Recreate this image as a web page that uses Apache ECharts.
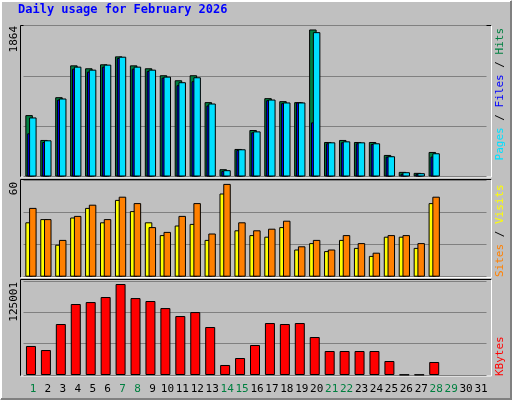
<!DOCTYPE html>
<html><head><meta charset="utf-8">
<script src="https://cdn.jsdelivr.net/npm/echarts@6/dist/echarts.min.js"></script>
<style>html,body{margin:0;padding:0;background:#c0c0c0}#c{width:512px;height:400px}</style>
</head><body><div id="c"></div>
<script>
var days = ['1','2','3','4','5','6','7','8','9','10','11','12','13','14','15','16','17','18','19','20','21','22','23','24','25','26','27','28','29','30','31'];
var weekend = ['1','7','8','14','15','21','22','28','29'];
var hits  = [758,451,979,1372,1336,1385,1483,1372,1336,1250,1188,1250,918,90,340,574,967,930,918,1815,426,451,426,426,266,57,45,303];
var files = [729,447,963,1356,1319,1381,1479,1356,1319,1233,1164,1225,901,78,336,557,950,914,914,1782,422,434,422,410,250,53,41,287];
var pages = [533,426,950,1331,1295,1356,1463,1331,1303,1221,1127,1176,877,70,328,545,942,905,914,668,410,422,410,401,246,33,33,246];
var visits = [34,36,20,37,43,34,48,41,34,26,32,33,23,52,29,26,25,31,17,21,16,23,18,13,25,25,18,46];
var sites  = [43,36,23,38,45,36,50,46,31,28,38,46,27,58,34,29,30,35,19,23,17,26,21,15,26,26,21,50];
var kbytes = [38600,33200,67800,94400,97000,103700,121000,102300,98400,89000,78400,83700,63800,13300,22600,39900,69100,67800,69100,50500,31900,31900,31900,31900,18600,500,500,17300];
var maxHits = 1864, maxSites = 60, maxK = 125001;

var F = 'DejaVu Sans Mono, monospace';
var chart = echarts.init(document.getElementById('c'));
var gl = 23.5, gw = 463;
var grids = [
  {left:gl, width:gw, top:25.5, height:151},
  {left:gl, width:gw, top:180.7, height:96},
  {left:gl, width:gw, top:281, height:94}
];
function xa(i, show){
  return {type:'category', gridIndex:i, data:days, axisLine:{show:false}, axisTick:{show:false},
    axisLabel:{show:show, margin:9, padding:[0,0,0,4], fontFamily:F, fontSize:11, interval:0,
      formatter:function(v){return weekend.indexOf(v)>=0 ? '{g|'+v+'}' : '{b|'+v+'}';},
      rich:{g:{color:'#008040',fontFamily:F,fontSize:11},b:{color:'#000',fontFamily:F,fontSize:11}}}};
}
function ya(i, max){
  return {type:'value', gridIndex:i, min:0, max:max, interval:max/3, axisLabel:{show:false},
    axisLine:{show:false}, axisTick:{show:false}, splitLine:{lineStyle:{color:'#808080',width:1}}};
}
var bs = {borderColor:'#000', borderWidth:1};
function panel(x,y,w,h){
  return [
    {type:'rect', shape:{x:x,y:y,width:w,height:h}, style:{fill:'#c0c0c0'}, z:-10},
    {type:'polyline', shape:{points:[[x,y+h],[x,y],[x+w,y]]}, style:{stroke:'#000',lineWidth:1,fill:null}, z:-9},
    {type:'polyline', shape:{points:[[x+w,y],[x+w,y+h],[x,y+h]]}, style:{stroke:'#fff',lineWidth:1,fill:null}, z:-9}
  ];
}
var g = [].concat(
  [{type:'polyline', shape:{points:[[1,399],[1,1],[511,1]]}, style:{stroke:'#fff',lineWidth:2,fill:null}},
   {type:'polyline', shape:{points:[[511,1],[511,399],[1,399]]}, style:{stroke:'#808080',lineWidth:2,fill:null}}],
  panel(20.5,25.5,471,151.5), panel(20.5,179.5,471,98), panel(20.5,279.5,471,96.5),
  [
   {type:'text', x:18, y:10, style:{text:'Daily usage for February 2026', fill:'#0000ff', font:'bold 12px '+F, textVerticalAlign:'middle'}},
   {type:'text', x:14, y:26, rotation:Math.PI/2, style:{text:'1864', fill:'#000', font:'11px '+F, textAlign:'right', textVerticalAlign:'middle'}},
   {type:'text', x:14, y:182, rotation:Math.PI/2, style:{text:'60', fill:'#000', font:'11px '+F, textAlign:'right', textVerticalAlign:'middle'}},
   {type:'text', x:14, y:282, rotation:Math.PI/2, style:{text:'125001', fill:'#000', font:'11px '+F, textAlign:'right', textVerticalAlign:'middle'}},
   {type:'text', x:500, y:28, rotation:Math.PI/2, style:{text:'{c|Pages}{k| / }{b|Files}{k| / }{g|Hits}', textAlign:'right', textVerticalAlign:'middle',
      rich:{c:{fill:'#00e0ff',font:'11px '+F},b:{fill:'#0000ff',font:'11px '+F},g:{fill:'#008040',font:'11px '+F},k:{fill:'#000',font:'11px '+F}}}},
   {type:'text', x:500, y:277, rotation:Math.PI/2, style:{text:'{o|Sites}{k| / }{y|Visits}', textAlign:'left', textVerticalAlign:'middle',
      rich:{o:{fill:'#ff8000',font:'11px '+F},y:{fill:'#ffff00',font:'11px '+F},k:{fill:'#000',font:'11px '+F}}}},
   {type:'text', x:500, y:376, rotation:Math.PI/2, style:{text:'KBytes', fill:'#ff0000', font:'11px '+F, textAlign:'left', textVerticalAlign:'middle'}}
  ]);
chart.setOption({
  animation:false,
  backgroundColor:'#c0c0c0',
  grid:grids,
  xAxis:[xa(0,false), xa(1,false), xa(2,true)],
  yAxis:[ya(0,maxHits), ya(1,maxSites), ya(2,maxK)],
  graphic:g,
  series:[
    {type:'bar', name:'Hits', data:hits, xAxisIndex:0, yAxisIndex:0, barWidth:7.5, barGap:'-75%', itemStyle:Object.assign({color:'#008040'},bs)},
    {type:'bar', name:'Pages', data:pages, xAxisIndex:0, yAxisIndex:0, barWidth:7.5, barGap:'-75%', itemStyle:Object.assign({color:'#0000ff'},bs)},
    {type:'bar', name:'Files', data:files, xAxisIndex:0, yAxisIndex:0, barWidth:7.5, barGap:'-75%', itemStyle:Object.assign({color:'#00e0ff'},bs)},
    {type:'bar', name:'Visits', data:visits, xAxisIndex:1, yAxisIndex:1, barWidth:7.5, barGap:'-50%', itemStyle:Object.assign({color:'#ffff00'},bs)},
    {type:'bar', name:'Sites', data:sites, xAxisIndex:1, yAxisIndex:1, barWidth:7.5, barGap:'-50%', itemStyle:Object.assign({color:'#ff8000'},bs)},
    {type:'bar', name:'KBytes', data:kbytes, xAxisIndex:2, yAxisIndex:2, barWidth:10, itemStyle:Object.assign({color:'#ff0000'},bs)}
  ]
});
</script></body></html>
